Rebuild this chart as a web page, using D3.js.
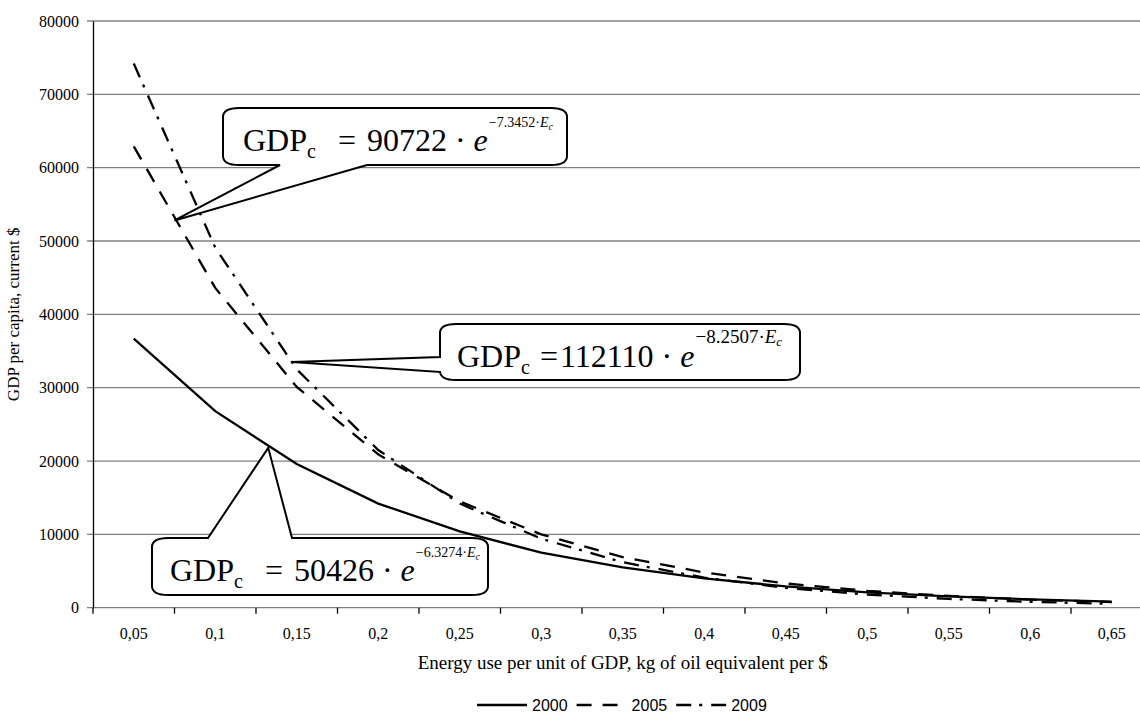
<!DOCTYPE html>
<html><head><meta charset="utf-8">
<script src="https://cdn.jsdelivr.net/npm/d3@7"></script>
<style>body{margin:0;background:#fff} text{white-space:pre}</style>
</head><body><svg id="c" width="1140" height="713"></svg>
<script>
// ---------- data ----------
const categories = ["0,05","0,1","0,15","0,2","0,25","0,3","0,35","0,4","0,45","0,5","0,55","0,6","0,65"];
const values2000 = [36700, 26800, 19600, 14200, 10400, 7500, 5500, 4000, 2900, 2100, 1550, 1130, 820];
const values2005 = [62900, 43600, 30100, 20900, 14500, 10000, 6900, 4800, 3300, 2300, 1600, 1100, 770];
const values2009 = [74200, 49100, 32500, 21500, 14200, 9400, 6200, 4100, 2700, 1800, 1200, 800, 530];
const seriesNames = ["2000", "2005", "2009"];
const yTicks = [0, 10000, 20000, 30000, 40000, 50000, 60000, 70000, 80000];
const yTitle = "GDP per capita, current $";
const xTitle = "Energy use per unit of GDP, kg of oil equivalent per $";
const eqCoefs = ["90722", "112110", "50426"];
const eqExps = ["7.3452", "8.2507", "6.3274"];
// callout anchors: fractional category index and value
const anchorPos = [0.5, 1.94, 1.65];
const anchorVal = [52800, 33500, 21800];

// ---------- layout ----------
const W = 1140, H = 713;
const serif = "'Liberation Serif','Times New Roman',serif";
const sans = "'Liberation Sans',Arial,sans-serif";
const svg = d3.select("#c");
const x = d3.scaleBand().domain(categories).range([93, 1152.5]).padding(0);
const y = d3.scaleLinear().domain([0, 80000]).range([607.7, 21]);
const xAt = i => x.range()[0] + (i + 0.5) * x.step();

// gridlines
svg.append("g").selectAll("line").data(yTicks).join("line")
  .attr("x1", 87).attr("x2", W).attr("y1", d => y(d)).attr("y2", d => y(d))
  .attr("stroke", "#808080").attr("stroke-width", 1.3);

// y axis
const yAxis = svg.append("g").attr("transform", "translate(93,0)")
  .call(d3.axisLeft(y).tickValues(yTicks).tickSize(0).tickSizeOuter(0).tickPadding(14).tickFormat(d => String(d)));
yAxis.select(".domain").attr("stroke", "#000").attr("stroke-width", 1.3);
yAxis.selectAll("text").style("font-family", serif).style("font-size", "16px").attr("fill", "#000");

// x axis labels
const xAxis = svg.append("g").attr("transform", `translate(0,${y(0)})`)
  .call(d3.axisBottom(x).tickSize(0).tickSizeOuter(0).tickPadding(0));
xAxis.select(".domain").remove();
xAxis.selectAll("text").attr("y", 31).attr("dy", 0)
  .style("font-family", serif).style("font-size", "16px").attr("fill", "#000");
// x tick marks at category boundaries
const bounds = categories.map(c => x(c)).concat([x.range()[1]]);
svg.append("g").selectAll("line").data(bounds).join("line")
  .attr("x1", d => d).attr("x2", d => d).attr("y1", y(0)).attr("y2", y(0) + 6)
  .attr("stroke", "#000").attr("stroke-width", 1.3);

// titles
svg.append("text").attr("x", (x.range()[0] + x.range()[1]) / 2).attr("y", 669)
  .attr("text-anchor", "middle").style("font-family", serif).style("font-size", "19px").text(xTitle);
svg.append("text").attr("transform", `translate(19,${(y(0) + y(80000)) / 2}) rotate(-90)`)
  .attr("text-anchor", "middle").style("font-family", serif).style("font-size", "17px").text(yTitle);

// series lines
const series = [
  {name: seriesNames[0], values: values2000, dash: null},
  {name: seriesNames[1], values: values2005, dash: "15,11"},
  {name: seriesNames[2], values: values2009, dash: "15,8,3,9"}
];
const line = d3.line().x((d, i) => xAt(i)).y(d => y(d));
svg.append("g").selectAll("path").data(series).join("path")
  .attr("d", d => line(d.values)).attr("fill", "none").attr("stroke", "#000")
  .attr("stroke-width", 2.3).attr("stroke-dasharray", d => d.dash);

// legend
const lg = svg.append("g");
let lx = 477; const ly = 705;
series.forEach(s => {
  lg.append("line").attr("x1", lx).attr("x2", lx + 50).attr("y1", ly).attr("y2", ly)
    .attr("stroke", "#000").attr("stroke-width", 2.3).attr("stroke-dasharray", s.dash);
  const t = lg.append("text").attr("x", lx + 55).attr("y", ly + 6)
    .style("font-family", sans).style("font-size", "16px").text(s.name);
  lx += 55 + t.node().getComputedTextLength() + 9;
});

// callouts
const boxes = [
  {x0: 223, y0: 108, x1: 567, y1: 165, side: "bottom", w1: 280, w2: 367, tx: 243, sup: 14, gap1: 22, gap2: 11},
  {x0: 440, y0: 324, x1: 800, y1: 380, side: "left", w1: 357, w2: 372, tx: 457, sup: 19, gap1: 10, gap2: 2},
  {x0: 152, y0: 538, x1: 488, y1: 595, side: "top", w1: 208, w2: 292, tx: 170, sup: 14, gap1: 22, gap2: 11}
];
function calloutPath(b, tip) {
  const rx = 16, ry = 9, p = d3.path();
  p.moveTo(b.x0 + rx, b.y0);
  if (b.side === "top") { p.lineTo(b.w1, b.y0); p.lineTo(tip[0], tip[1]); p.lineTo(b.w2, b.y0); }
  p.lineTo(b.x1 - rx, b.y0);
  p.bezierCurveTo(b.x1 - rx / 3, b.y0, b.x1, b.y0 + ry / 3, b.x1, b.y0 + ry);
  p.lineTo(b.x1, b.y1 - ry);
  p.bezierCurveTo(b.x1, b.y1 - ry / 3, b.x1 - rx / 3, b.y1, b.x1 - rx, b.y1);
  if (b.side === "bottom") { p.lineTo(b.w2, b.y1); p.lineTo(tip[0], tip[1]); p.lineTo(b.w1, b.y1); }
  p.lineTo(b.x0 + rx, b.y1);
  p.bezierCurveTo(b.x0 + rx / 3, b.y1, b.x0, b.y1 - ry / 3, b.x0, b.y1 - ry);
  if (b.side === "left") { p.lineTo(b.x0, b.w2); p.lineTo(tip[0], tip[1]); p.lineTo(b.x0, b.w1); }
  p.lineTo(b.x0, b.y0 + ry);
  p.bezierCurveTo(b.x0, b.y0 + ry / 3, b.x0 + rx / 3, b.y0, b.x0 + rx, b.y0);
  p.closePath();
  return p.toString();
}
boxes.forEach((b, k) => {
  const tip = [xAt(anchorPos[k]), y(anchorVal[k])];
  svg.append("path").attr("d", calloutPath(b, tip)).attr("fill", "#fff")
    .attr("stroke", "#000").attr("stroke-width", 2).attr("stroke-linejoin", "miter");
  const base = b.y0 + 43;
  const t = svg.append("text").attr("x", b.tx).attr("y", base)
    .style("font-family", serif).style("font-size", "32px");
  t.append("tspan").text("GDP");
  t.append("tspan").style("font-size", "20px").attr("dy", 7).text("c");
  t.append("tspan").attr("dy", -7).attr("dx", b.gap1).text("=");
  t.append("tspan").attr("dx", b.gap2).text(eqCoefs[k] + " \u00B7 ");
  t.append("tspan").style("font-style", "italic").text("e");
  t.append("tspan").style("font-size", b.sup + "px").attr("dx", 1).attr("dy", -24).text("\u2212" + eqExps[k] + "\u00B7");
  t.append("tspan").style("font-size", b.sup + "px").style("font-style", "italic").text("E");
  t.append("tspan").style("font-size", Math.round(b.sup * 0.7) + "px").style("font-style", "italic").attr("dy", 3).text("c");
});
</script>
</body></html>
